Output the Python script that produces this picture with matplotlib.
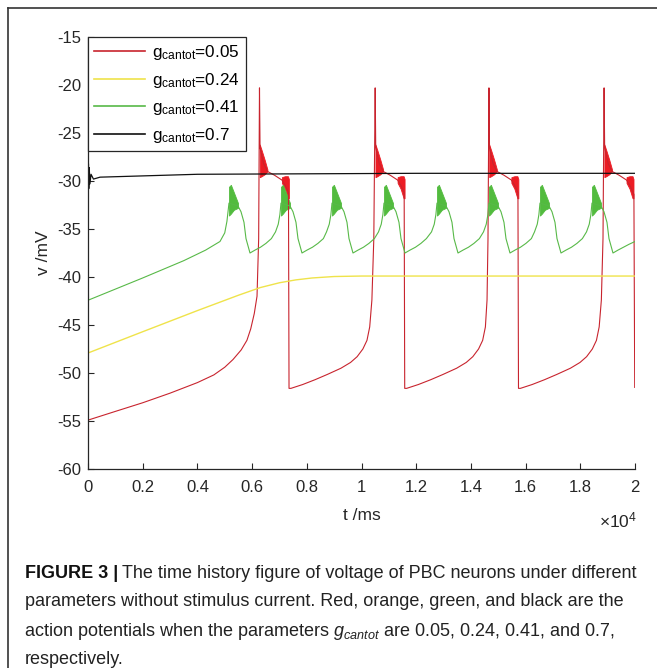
import matplotlib.pyplot as plt
import numpy as np
from matplotlib.lines import Line2D

plt.rcParams['font.family'] = ['Liberation Sans', 'DejaVu Sans']
plt.rcParams['mathtext.fontset'] = 'custom'
plt.rcParams['mathtext.rm'] = 'Liberation Sans'
plt.rcParams['mathtext.it'] = 'Liberation Sans:italic'
plt.rcParams['mathtext.bf'] = 'Liberation Sans:bold'
plt.rcParams['axes.unicode_minus'] = False

# legend values of g_cantot
g_values = ['0.05', '0.24', '0.41', '0.7']

# red trace, g_cantot = 0.05  (t in ms, v in mV)
red_t = [0, 10, 1000, 2000, 3000, 4000, 4600, 5000, 5300, 5600, 5810, 5950, 6080, 6180, 6240, 6270,
         6290, 6420, 6560, 6820, 7090, 7220, 7330, 7350,
         7420, 7850, 8300, 8750, 9250, 9600, 9840, 10050, 10200, 10300, 10380, 10450, 10500,
         10520, 10650, 10790, 11050, 11320, 11450, 11560, 11580,
         11650, 12080, 12530, 12980, 13480, 13830, 14070, 14280, 14430, 14530, 14590, 14625, 14660,
         14680, 14810, 14950, 15210, 15480, 15610, 15720, 15740,
         15810, 16240, 16690, 17140, 17640, 17990, 18230, 18440, 18590, 18690, 18770, 18830, 18870,
         18890, 19020, 19160, 19420, 19690, 19820, 19930, 19960, 19990]
red_v = [-48.0, -54.9, -54.0, -53.1, -52.1, -51.0, -50.2, -49.4, -48.6, -47.6, -46.6, -45.4, -43.8, -42.0, -36.0, -20.3,
         -26.5, -28.2, -29.0, -29.4, -29.9, -30.5, -31.2, -51.6,
         -51.6, -51.2, -50.7, -50.15, -49.5, -48.9, -48.3, -47.5, -46.6, -45.2, -42.4, -36.0, -20.3,
         -26.5, -28.2, -29.0, -29.4, -29.9, -30.5, -31.2, -51.6,
         -51.6, -51.2, -50.7, -50.15, -49.5, -48.9, -48.3, -47.5, -46.6, -45.2, -42.4, -36.0, -20.3,
         -26.5, -28.2, -29.0, -29.4, -29.9, -30.5, -31.2, -51.6,
         -51.6, -51.2, -50.7, -50.15, -49.5, -48.9, -48.3, -47.5, -46.6, -45.2, -42.4, -36.0, -20.3,
         -26.5, -28.2, -29.0, -29.4, -29.9, -30.5, -31.2, -31.4, -51.5]

# red oscillation envelopes after each spike
red_spikes = [6270, 10500, 14660, 18870]
red_osc1_dt = [10, 80, 190, 290]
red_osc1_hi = [-26.2, -26.8, -27.8, -28.8]
red_osc1_lo = [-29.6, -29.5, -29.3, -29.0]
red_osc2_dt = [820, 930, 1040, 1075]
red_osc2_hi = [-29.6, -29.5, -29.5, -29.8]
red_osc2_lo = [-30.2, -30.8, -31.8, -31.8]

# yellow trace, g_cantot = 0.24
yel_t = [0, 15, 2000, 4000, 5500, 6300, 7000, 7600, 8200, 9000, 10000, 20000]
yel_v = [-42.7, -47.9, -45.7, -43.5, -41.9, -41.1, -40.6, -40.3, -40.1, -39.95, -39.9, -39.9]

# green trace, g_cantot = 0.41
grn_t = [0, 20, 2000, 3500, 4300, 4826, 5000, 5080,
         5155, 5484, 5594, 5703, 5777, 5923, 6105, 6305, 6505, 6705, 6856, 6956, 7016,
         7056, 7385, 7495, 7604, 7678, 7824, 8006, 8206, 8406, 8606, 8721, 8821, 8881,
         8921, 9250, 9360, 9469, 9543, 9689, 9871, 10071, 10271, 10471, 10622, 10722, 10782,
         10822, 11151, 11261, 11370, 11444, 11590, 11772, 11972, 12172, 12372, 12560, 12660, 12720,
         12760, 13089, 13199, 13308, 13382, 13528, 13710, 13910, 14110, 14310, 14461, 14561, 14621,
         14661, 14990, 15100, 15209, 15283, 15429, 15611, 15811, 16011, 16211, 16326, 16426, 16486,
         16526, 16855, 16965, 17074, 17148, 17294, 17476, 17676, 17876, 18076, 18227, 18327, 18387,
         18427, 18756, 18866, 18975, 19049, 19195, 19377, 19577, 19777, 20000]
grn_v = [-38.5, -42.4, -40.1, -38.3, -37.2, -36.3, -35.4, -34.2] + \
        [-32.3, -32.6, -33.2, -34.3, -36.0, -37.5, -37.2, -36.9, -36.5, -36.0, -35.3, -34.5, -33.5,
         -32.3, -32.6, -33.2, -34.3, -36.0, -37.5, -37.2, -36.9, -36.5, -36.0, -35.3, -34.5, -33.5,
         -32.3, -32.6, -33.2, -34.3, -36.0, -37.5, -37.2, -36.9, -36.5, -36.0, -35.3, -34.5, -33.5,
         -32.3, -32.6, -33.2, -34.3, -36.0, -37.5, -37.2, -36.9, -36.5, -36.0, -35.3, -34.5, -33.5,
         -32.3, -32.6, -33.2, -34.3, -36.0, -37.5, -37.2, -36.9, -36.5, -36.0, -35.3, -34.5, -33.5,
         -32.3, -32.6, -33.2, -34.3, -36.0, -37.5, -37.2, -36.9, -36.5, -36.0, -35.3, -34.5, -33.5,
         -32.3, -32.6, -33.2, -34.3, -36.0, -37.5, -37.2, -36.9, -36.5, -36.0, -35.3, -34.5, -33.5,
         -32.3, -32.6, -33.2, -34.3, -36.0, -37.5, -37.2, -36.9, -36.6, -36.3]

# green burst envelopes
grn_bursts = [5155, 7056, 8921, 10822, 12760, 14661, 16526, 18427]
grn_osc_dt = [0, 70, 180, 330]
grn_osc_hi = [-30.6, -30.4, -31.2, -32.3]
grn_osc_lo = [-33.6, -33.4, -33.0, -32.8]

# black trace, g_cantot = 0.7
blk_t = [0, 8, 16, 28, 45, 70, 110, 200, 440, 4000, 8000, 12000, 20000]
blk_v = [-28.0, -31.5, -28.2, -30.8, -28.6, -30.3, -29.3, -29.8, -29.6, -29.3, -29.25, -29.2, -29.2]

xtick_vals = [0, 2000, 4000, 6000, 8000, 10000, 12000, 14000, 16000, 18000, 20000]
xtick_labels = ['0', '0.2', '0.4', '0.6', '0.8', '1', '1.2', '1.4', '1.6', '1.8', '2']
ytick_vals = [-60, -55, -50, -45, -40, -35, -30, -25, -20, -15]

c_red = '#c8242e'
c_red_fill = '#ec1c24'
c_yel = '#efe34a'
c_grn = '#58b948'
c_grn_fill = '#52bb3e'
c_blk = '#111111'
axcol = '#262626'

fig = plt.figure(figsize=(6.57, 6.68), dpi=100)
ax = fig.add_axes([88/657, 1-469/668, (635-88)/657, (469-37)/668])

ax.plot(red_t, red_v, color=c_red, lw=0.8)
for s in red_spikes:
    ax.fill_between(np.array(red_osc1_dt) + s, red_osc1_lo, red_osc1_hi, color=c_red_fill, lw=0.6)
    ax.fill_between(np.array(red_osc2_dt) + s, red_osc2_lo, red_osc2_hi, color=c_red_fill, lw=0.6)
ax.plot(yel_t, yel_v, color=c_yel, lw=1.0)
ax.plot(grn_t, grn_v, color=c_grn, lw=0.8)
for b in grn_bursts:
    ax.fill_between(np.array(grn_osc_dt) + b, grn_osc_lo, grn_osc_hi, color=c_grn_fill, lw=0.6)
ax.plot(blk_t, blk_v, color=c_blk, lw=0.9)

ax.set_xlim(0, 20000)
ax.set_ylim(-60, -15)
ax.set_xticks(xtick_vals)
ax.set_xticklabels(xtick_labels)
ax.set_yticks(ytick_vals)
ax.tick_params(direction='in', length=4, width=0.8, colors=axcol, labelsize=12)
ax.tick_params(axis='x', pad=8)
ax.tick_params(axis='y', pad=5)
for side in ['top', 'right']:
    ax.spines[side].set_visible(False)
for side in ['left', 'bottom']:
    ax.spines[side].set_color(axcol)
    ax.spines[side].set_linewidth(0.9)

ax.set_xlabel('t /ms', fontsize=12.5, color=axcol, labelpad=9)
ax.set_ylabel('v /mV', fontsize=12.5, color=axcol, labelpad=4)
ax.text(1.003, -0.12, r'$\times\mathregular{10^{4}}$', transform=ax.transAxes,
        ha='right', va='center', fontsize=12.5, color=axcol)

handles = [Line2D([], [], color=c, lw=1.2) for c in [c_red, c_yel, c_grn, c_blk]]
labels = [r'$\mathrm{g_{cantot}}$=' + g for g in g_values]
leg = ax.legend(handles, labels, loc='upper left', bbox_to_anchor=(0, 1), borderaxespad=0,
                fancybox=False, edgecolor=axcol, framealpha=1, fontsize=12.3,
                handlelength=3.0, handletextpad=0.4, labelspacing=0.5, borderpad=0.35)
leg.get_frame().set_linewidth(0.9)

# outer frame of the published figure
fig.add_artist(Line2D([8/657, 8/657], [0, 1-8/668], color='#333333', lw=1.2))
fig.add_artist(Line2D([8/657, 1], [1-8/668, 1-8/668], color='#333333', lw=1.2))

# caption
cap_x = 25/657
cap_size = 13.0
cap_col = '#222222'
t1 = fig.text(cap_x, 1-573/668, 'FIGURE 3 |', fontsize=cap_size, fontweight='bold',
              color='#111111', va='center', ha='left')
fig.canvas.draw()
bb = t1.get_window_extent()
fig.text(bb.x1/657 + 4/657, 1-573/668, 'The time history figure of voltage of PBC neurons under different',
         fontsize=cap_size, color=cap_col, va='center', ha='left')
fig.text(cap_x, 1-602/668, 'parameters without stimulus current. Red, orange, green, and black are the',
         fontsize=cap_size, color=cap_col, va='center', ha='left')
fig.text(cap_x - 1.5/657, 1-632/668, r'action potentials when the parameters $g_{cantot}$ are 0.05, 0.24, 0.41, and 0.7,',
         fontsize=cap_size, color=cap_col, va='center', ha='left')
fig.text(cap_x, 1-660/668, 'respectively.',
         fontsize=cap_size, color=cap_col, va='center', ha='left')

fig.savefig('out.png', dpi=100)
